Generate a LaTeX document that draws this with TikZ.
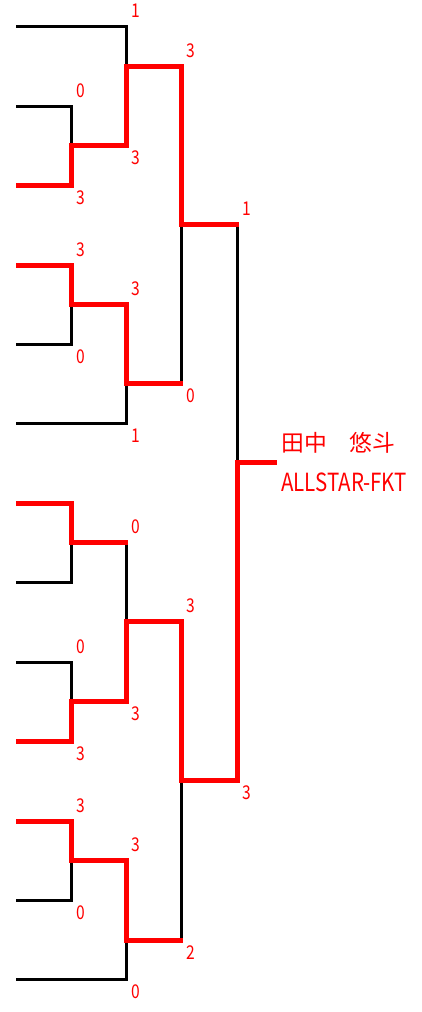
\documentclass[tikz,border=0pt]{standalone}
\usepackage{fontspec}
\newfontfamily\jpfont{Noto Sans CJK JP}
\newfontfamily\latfont[FakeStretch=0.82]{Noto Sans CJK JP}

\begin{document}
\begin{tikzpicture}[x=1pt,y=-1pt,
  loser/.style={line width=3pt,black},
  winner/.style={line width=5pt,red,shorten >=-1.5pt},
  score/.style={text=red,inner sep=0pt,font=\latfont\fontsize{19}{19}\selectfont},
  scoreup/.style={score,xshift=10pt,yshift=15pt},
  scoredn/.style={score,xshift=10pt,yshift=-13pt},
  champtext/.style={text=red,inner sep=0pt,anchor=west}]

\useasboundingbox (0,0) rectangle (421,1012);

% entries
\foreach \n/\y in {1/26, 2/106, 3/185, 4/265, 5/344, 6/423, 7/503,
                   8/582, 9/662, 10/741, 11/821, 12/900, 13/979}
  \coordinate (l\n) at (16,\y);

% rounds
\coordinate (m1) at (71,145);
\coordinate (m2) at (71,304);
\coordinate (m3) at (71,542);
\coordinate (m4) at (71,701);
\coordinate (m5) at (71,860);
\coordinate (q1) at (126,66);
\coordinate (q2) at (126,383);
\coordinate (q3) at (126,621);
\coordinate (q4) at (126,940);
\coordinate (s1) at (181,224);
\coordinate (s2) at (181,780);
\coordinate (f) at (237,462);
\coordinate (champ) at (275,462);

% bracket
\draw[loser] (l2) -| (m1) |- (l3);
\draw[loser] (l4) -| (m2) |- (l5);
\draw[loser] (l7) -| (m3) |- (l8);
\draw[loser] (l9) -| (m4) |- (l10);
\draw[loser] (l11) -| (m5) |- (l12);
\draw[loser] (l1) -| (q1) |- (m1);
\draw[loser] (m2) -| (q2) |- (l6);
\draw[loser] (m3) -| (q3) |- (m4);
\draw[loser] (m5) -| (q4) |- (l13);
\draw[loser] (q1) -| (s1) |- (q2);
\draw[loser] (q3) -| (s2) |- (q4);
\draw[loser] (s1) -| (f) |- (s2);

% winners
\draw[winner] (l3) -| (m1) -| (q1) -| (s1) -- (s1 -| f);
\draw[winner] (l4) -| (m2) -| (q2) -- (q2 -| s1);
\draw[winner] (l7) -| (m3) -- (m3 -| q3);
\draw[winner] (l10) -| (m4) -| (q3) -| (s2) -| (f) -- (champ);
\draw[winner] (l11) -| (m5) -| (q4) -- (q4 -| s2);

% scores
\foreach \p/\t/\s [count=\i] in {
  l1 -| q1/1/scoreup, q1 -| s1/3/scoreup, l2 -| m1/0/scoreup,
  l3 -| m1/3/scoredn, m1 -| q1/3/scoredn, s1 -| f/1/scoreup,
  l4 -| m2/3/scoreup, m2 -| q2/3/scoreup, l5 -| m2/0/scoredn,
  q2 -| s1/0/scoredn, l6 -| q2/1/scoredn,
  m3 -| q3/0/scoreup, q3 -| s2/3/scoreup, l9 -| m4/0/scoreup,
  m4 -| q3/3/scoredn, l10 -| m4/3/scoredn, s2 -| f/3/scoredn,
  l11 -| m5/3/scoreup, m5 -| q4/3/scoreup, l12 -| m5/0/scoredn,
  q4 -| s2/2/scoredn, l13 -| q4/0/scoredn}
  \node[\s] (sc\i) at (\p) {\t};

% champion
\node[champtext,font=\jpfont\fontsize{22.8}{24}\selectfont] (champname)
  at ([xshift=6pt,yshift=19pt]champ) {田中　悠斗};
\node[champtext,font=\latfont\fontsize{25}{26}\selectfont] (champteam)
  at ([xshift=6pt,yshift=-20.5pt]champ) {ALLSTAR-FKT};
\end{tikzpicture}
\end{document}
